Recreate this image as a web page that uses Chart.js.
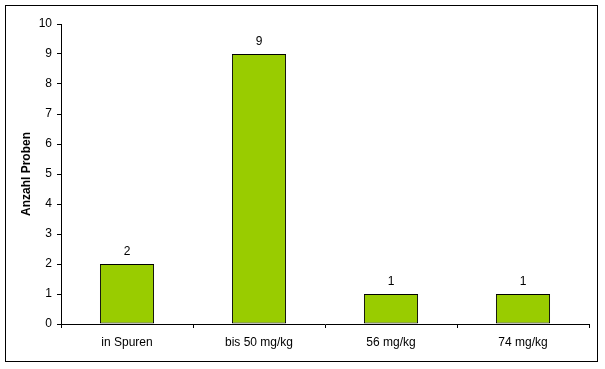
<!DOCTYPE html>
<html>
<head>
<meta charset="utf-8">
<script src="https://cdn.jsdelivr.net/npm/chart.js@4.4.0/dist/chart.umd.min.js"></script>
<style>
  html, body { margin: 0; padding: 0; background: #fff; }
  #wrap { width: 605px; height: 369px; position: relative; }
</style>
</head>
<body>
<div id="wrap"><canvas id="c" width="605" height="369"></canvas></div>
<script>
// data
const categories = ["in Spuren", "bis 50 mg/kg", "56 mg/kg", "74 mg/kg"];
const counts = [2, 9, 1, 1];
const yTicks = [0, 1, 2, 3, 4, 5, 6, 7, 8, 9, 10];

const font = { family: "Arial, 'Liberation Sans', sans-serif", size: 12 };

// outer frame + value labels
const framePlugin = {
  id: "frame",
  beforeDraw(chart) {
    const ctx = chart.ctx;
    ctx.save();
    ctx.fillStyle = "#fff";
    ctx.fillRect(0, 0, chart.width, chart.height);
    ctx.strokeStyle = "#000";
    ctx.lineWidth = 1;
    ctx.strokeRect(5.5, 5.5, 592, 356);
    ctx.restore();
  },
  afterDatasetsDraw(chart) {
    const ctx = chart.ctx;
    const meta = chart.getDatasetMeta(0);
    ctx.save();
    ctx.font = "12px " + font.family;
    ctx.fillStyle = "#000";
    ctx.textAlign = "center";
    ctx.textBaseline = "bottom";
    meta.data.forEach((bar, i) => {
      ctx.fillText(String(counts[i]), bar.x, bar.y - 6);
    });
    ctx.restore();
  }
};

new Chart(document.getElementById("c"), {
  type: "bar",
  data: {
    labels: categories,
    datasets: [{
      data: counts,
      backgroundColor: "#99CC00",
      borderColor: "#000",
      borderWidth: 1,
      borderSkipped: false,
      categoryPercentage: 1,
      barPercentage: 0.41
    }]
  },
  options: {
    responsive: false,
    animation: false,
    layout: { padding: { top: 24, right: 16, left: 0, bottom: 0 } },
    plugins: { legend: { display: false }, tooltip: { enabled: false } },
    scales: {
      x: {
        grid: { display: true, drawOnChartArea: false, offset: true, tickLength: 4, color: "#000" },
        border: { display: true, color: "#000" },
        ticks: { color: "#000", font: font, padding: 7, maxRotation: 0 },
        afterFit(scale) { scale.height = 45; }
      },
      y: {
        min: 0,
        max: 10,
        afterBuildTicks(scale) { scale.ticks = yTicks.map(v => ({ value: v })); },
        grid: { display: true, drawOnChartArea: false, tickLength: 4, color: "#000" },
        border: { display: true, color: "#000" },
        ticks: { color: "#000", font: font, padding: 5 },
        title: {
          display: true,
          text: "Anzahl Proben",
          color: "#000",
          font: { family: font.family, size: 12, weight: "bold" },
          padding: { top: 19, bottom: 0 }
        },
        afterFit(scale) { scale.width = 61; }
      }
    }
  },
  plugins: [framePlugin]
});
</script>
</body>
</html>
